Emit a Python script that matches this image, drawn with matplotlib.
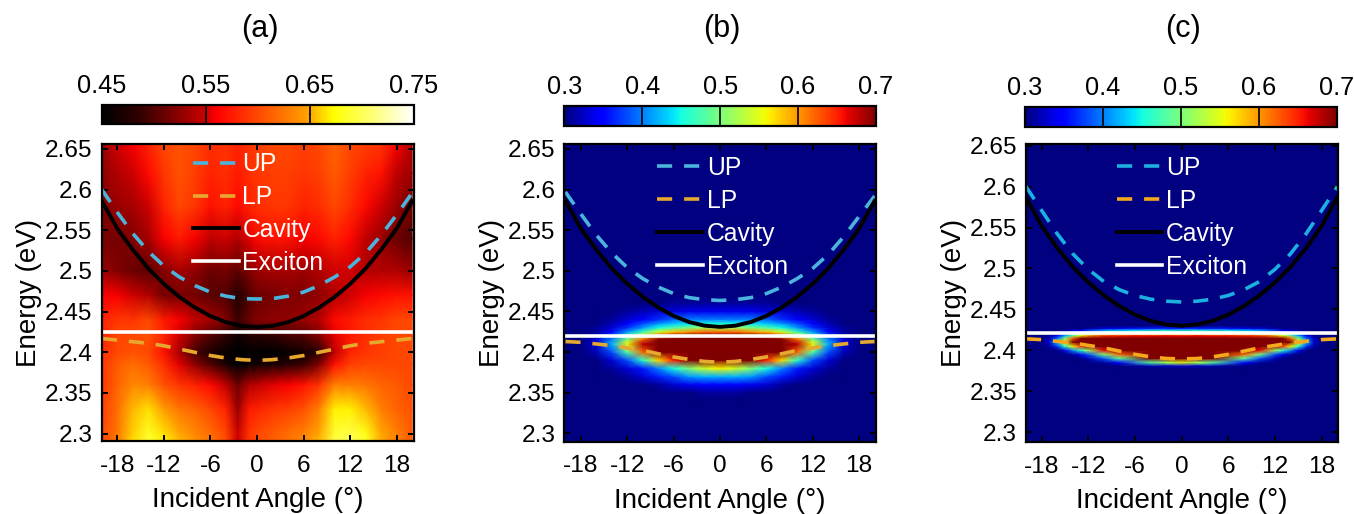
import numpy as np
import matplotlib
matplotlib.use('Agg')
import matplotlib.pyplot as plt
from matplotlib.colors import LinearSegmentedColormap

plt.rcParams['font.family'] = ['Liberation Sans', 'DejaVu Sans']

W, H = 1354, 514

# Angle axis of the dispersion curves
half_angles = [0, 2, 4, 6, 8, 10, 12, 14, 16, 18, 20]

up_a_l = [2.4655, 2.466, 2.469, 2.474, 2.482, 2.4925, 2.506, 2.524, 2.546, 2.572, 2.600]
up_a_r = [2.4655, 2.466, 2.469, 2.474, 2.482, 2.4925, 2.505, 2.522, 2.544, 2.569, 2.596]
lp_a = [2.390, 2.391, 2.393, 2.396, 2.400, 2.404, 2.408, 2.411, 2.413, 2.415, 2.417]
cav_a_l = [2.431, 2.4325, 2.437, 2.4445, 2.455, 2.468, 2.484, 2.503, 2.526, 2.552, 2.586]
cav_a_r = [2.431, 2.4325, 2.437, 2.4445, 2.455, 2.468, 2.484, 2.503, 2.526, 2.552, 2.586]

up_b_l = [2.4635, 2.4645, 2.467, 2.472, 2.480, 2.4905, 2.504, 2.522, 2.544, 2.570, 2.597]
up_b_r = [2.4635, 2.4645, 2.467, 2.472, 2.480, 2.4905, 2.503, 2.520, 2.542, 2.567, 2.592]
lp_b = [2.3875, 2.3885, 2.391, 2.394, 2.398, 2.402, 2.405, 2.408, 2.410, 2.412, 2.413]

up_c = [2.459, 2.460, 2.4625, 2.467, 2.474, 2.484, 2.499, 2.518, 2.5425, 2.571, 2.600]
lp_c = [2.3894, 2.390, 2.392, 2.395, 2.399, 2.403, 2.406, 2.409, 2.411, 2.413, 2.414]
cav_c = [2.430, 2.4315, 2.436, 2.4435, 2.454, 2.467, 2.483, 2.502, 2.525, 2.552, 2.587]

exciton_a = 2.4254
exciton_b = 2.420
exciton_c = 2.421

a_angles = [-20, -18, -16, -14, -12, -10, -8, -6, -4, -2.5, -1, 0, 2, 4, 6, 8, 10, 12, 14, 16, 18, 20]
a_energies = [2.29, 2.30, 2.33, 2.36, 2.385, 2.40, 2.42, 2.44, 2.47, 2.50, 2.54, 2.58, 2.62, 2.656]
a_map = [
    [.60, .625, .665, .69, .67, .655, .64, .625, .60, .55, .59, .60, .61, .62, .635, .655, .695, .70, .685, .65, .63, .61],
    [.60, .625, .66, .685, .665, .65, .635, .62, .60, .55, .59, .60, .61, .62, .63, .65, .69, .695, .68, .65, .63, .61],
    [.595, .62, .655, .665, .645, .625, .615, .60, .58, .53, .575, .58, .59, .595, .605, .63, .67, .67, .655, .63, .615, .605],
    [.59, .615, .635, .63, .605, .59, .58, .565, .545, .51, .54, .545, .555, .56, .57, .59, .63, .63, .625, .615, .61, .60],
    [.59, .61, .62, .61, .585, .555, .525, .50, .47, .45, .46, .465, .47, .48, .49, .52, .57, .595, .60, .60, .60, .60],
    [.585, .60, .605, .60, .57, .535, .495, .47, .455, .45, .45, .45, .45, .455, .465, .48, .545, .58, .59, .595, .60, .60],
    [.58, .60, .60, .605, .58, .55, .52, .50, .485, .46, .475, .48, .485, .495, .50, .52, .555, .575, .585, .595, .60, .60],
    [.58, .59, .59, .60, .575, .56, .545, .535, .52, .49, .51, .52, .525, .525, .53, .54, .565, .575, .585, .59, .60, .60],
    [.56, .56, .55, .54, .515, .515, .515, .505, .50, .475, .50, .51, .515, .52, .52, .525, .54, .55, .56, .565, .57, .57],
    [.53, .52, .51, .505, .52, .535, .525, .51, .515, .505, .52, .53, .535, .535, .53, .54, .55, .55, .54, .54, .54, .53],
    [.515, .515, .52, .535, .56, .575, .56, .545, .55, .54, .555, .565, .57, .57, .56, .565, .58, .565, .545, .53, .51, .50],
    [.52, .53, .535, .55, .58, .60, .59, .57, .58, .565, .58, .585, .59, .59, .58, .585, .60, .585, .565, .55, .53, .515],
    [.525, .54, .55, .565, .59, .605, .595, .58, .585, .575, .585, .59, .595, .595, .59, .595, .61, .595, .58, .57, .545, .53],
    [.53, .55, .56, .58, .60, .605, .60, .585, .59, .58, .59, .595, .60, .60, .595, .60, .615, .60, .595, .59, .56, .54],
]

b_half_angles = [0, 2, 4, 6, 8, 10, 12, 14, 16, 18, 20]
b_energies = [2.29, 2.34, 2.35, 2.36, 2.37, 2.38, 2.39, 2.40, 2.41, 2.416, 2.42, 2.425, 2.43, 2.435, 2.44, 2.45, 2.46, 2.47, 2.656]
b_half_map = [
    [.30, .30, .30, .30, .30, .30, .30, .30, .30, .30, .30],
    [.30, .30, .30, .30, .30, .30, .30, .30, .30, .30, .30],
    [.31, .31, .30, .30, .30, .30, .30, .30, .30, .30, .30],
    [.35, .35, .34, .33, .31, .30, .30, .30, .30, .30, .30],
    [.42, .42, .41, .38, .36, .33, .31, .30, .30, .30, .30],
    [.56, .54, .50, .45, .40, .36, .33, .31, .30, .30, .30],
    [.74, .73, .70, .65, .57, .46, .38, .33, .30, .30, .30],
    [.80, .80, .80, .78, .72, .62, .48, .38, .32, .30, .30],
    [.80, .80, .80, .80, .78, .68, .56, .42, .33, .30, .30],
    [.78, .78, .78, .76, .72, .62, .50, .40, .33, .30, .30],
    [.72, .72, .71, .68, .62, .54, .46, .38, .32, .30, .30],
    [.62, .62, .60, .58, .54, .47, .41, .35, .31, .30, .30],
    [.52, .52, .50, .48, .45, .41, .37, .33, .31, .30, .30],
    [.45, .45, .44, .43, .41, .38, .35, .32, .30, .30, .30],
    [.40, .40, .40, .39, .37, .35, .33, .31, .30, .30, .30],
    [.34, .34, .34, .33, .33, .32, .31, .30, .30, .30, .30],
    [.31, .31, .31, .31, .30, .30, .30, .30, .30, .30, .30],
    [.30, .30, .30, .30, .30, .30, .30, .30, .30, .30, .30],
    [.30, .30, .30, .30, .30, .30, .30, .30, .30, .30, .30],
]

# Panel (c) map, same treatment
c_half_angles = [0, 4, 8, 10, 12, 13, 14, 15, 16, 17, 18, 20]
c_energies = [2.288, 2.378, 2.381, 2.385, 2.39, 2.395, 2.40, 2.405, 2.41, 2.415, 2.418, 2.421, 2.424, 2.427, 2.430, 2.652]
c_half_map = [
    [.30, .30, .30, .30, .30, .30, .30, .30, .30, .30, .30, .30],
    [.30, .30, .30, .30, .30, .30, .30, .30, .30, .30, .30, .30],
    [.33, .32, .30, .30, .30, .30, .30, .30, .30, .30, .30, .30],
    [.55, .48, .35, .31, .30, .30, .30, .30, .30, .30, .30, .30],
    [.78, .70, .48, .38, .32, .30, .30, .30, .30, .30, .30, .30],
    [.80, .78, .62, .50, .38, .34, .31, .30, .30, .30, .30, .30],
    [.80, .80, .78, .66, .52, .46, .40, .34, .30, .30, .30, .30],
    [.80, .80, .80, .78, .72, .64, .56, .46, .37, .31, .30, .30],
    [.80, .80, .80, .80, .80, .78, .70, .56, .43, .33, .30, .30],
    [.76, .76, .76, .76, .74, .70, .62, .50, .39, .32, .30, .30],
    [.66, .66, .65, .64, .60, .56, .50, .42, .35, .31, .30, .30],
    [.56, .56, .54, .52, .49, .46, .42, .36, .32, .30, .30, .30],
    [.46, .46, .44, .42, .38, .35, .33, .31, .30, .30, .30, .30],
    [.36, .36, .34, .33, .31, .30, .30, .30, .30, .30, .30, .30],
    [.30, .30, .30, .30, .30, .30, .30, .30, .30, .30, .30, .30],
    [.30, .30, .30, .30, .30, .30, .30, .30, .30, .30, .30, .30],
]

x_ticks = [-18, -12, -6, 0, 6, 12, 18]
y_ticks = [2.3, 2.35, 2.4, 2.45, 2.5, 2.55, 2.6, 2.65]
y_ticklabels = ['2.3', '2.35', '2.4', '2.45', '2.5', '2.55', '2.6', '2.65']
cbar_a_ticks = [0.45, 0.55, 0.65, 0.75]
cbar_a_labels = ['0.45', '0.55', '0.65', '0.75']
cbar_bc_ticks = [0.3, 0.4, 0.5, 0.6, 0.7]
cbar_bc_labels = ['0.3', '0.4', '0.5', '0.6', '0.7']

hot_stops = [(0.0, '#000000'), (0.12, '#300000'), (0.33, '#c80000'), (0.37, '#ff0000'),
             (0.66, '#ffa000'), (0.745, '#ffff00'), (0.88, '#ffff80'), (1.0, '#ffffff')]
hot_cmap = LinearSegmentedColormap.from_list('hotish', hot_stops)


def px_axes(left, top, right, bottom):
    return fig.add_axes([left / W, 1 - bottom / H, (right - left) / W, (bottom - top) / H])


def wings(half, right=None):
    # join left and right wing into one curve from -20 to 20
    right = half if right is None else right
    x = np.array(half_angles)
    return np.concatenate([-x[::-1], x[1:]]), np.concatenate([np.array(half)[::-1], np.array(right)[1:]])


def mirror(half_x, half_z):
    half_x = np.array(half_x)
    half_z = np.array(half_z)
    return np.concatenate([-half_x[::-1], half_x[1:]]), np.hstack([half_z[:, ::-1], half_z[:, 1:]])


def draw_panel(box, cbox, title, title_x, x, e, z, cmap, vmin, vmax, ticks, labels,
               xlim, ylim, up, lp, cav, exciton, col_up, col_lp, leg_xy):
    ax = px_axes(*box)
    mesh = ax.pcolormesh(x, e, np.array(z), shading='gouraud', cmap=cmap, vmin=vmin, vmax=vmax, rasterized=True)
    dash = (4.2, 3.3)
    ax.plot(*up, color=col_up, lw=2.6, dashes=dash, label='UP')
    ax.plot(*lp, color=col_lp, lw=2.6, dashes=dash, label='LP')
    ax.plot(*cav, color='black', lw=2.8, label='Cavity')
    ax.plot([-19.95, 19.95], [exciton, exciton], color='white', lw=2.6, label='Exciton')
    ax.set_xlim(*xlim)
    ax.set_ylim(*ylim)
    ax.set_xticks(x_ticks)
    ax.set_xticklabels([str(t) for t in x_ticks])
    ax.set_yticks(y_ticks)
    ax.set_yticklabels(y_ticklabels)
    ax.tick_params(direction='in', top=True, right=True, length=4, width=1.4, labelsize=17.6)
    ax.tick_params(axis='x', pad=10)
    ax.tick_params(axis='y', pad=6.5)
    ax.set_xlabel('Incident Angle (°)', fontsize=20)
    ax.set_ylabel('Energy (eV)', fontsize=20)
    ax.xaxis.set_label_coords(0.5, -0.156)
    ax.yaxis.set_label_coords(-0.19, 0.5)
    for s in ax.spines.values():
        s.set_linewidth(1.6)
    leg = ax.legend(loc='upper left', bbox_to_anchor=leg_xy, frameon=False, fontsize=17.8,
                    labelcolor='white', handlelength=1.85, handletextpad=0.15, labelspacing=0.36,
                    borderpad=0, borderaxespad=0)
    leg.set_zorder(5)

    cax = px_axes(*cbox)
    cb = fig.colorbar(mesh, cax=cax, orientation='horizontal')
    cb.set_ticks(ticks)
    cb.set_ticklabels(labels)
    cax.xaxis.set_ticks_position('both')
    cax.xaxis.set_label_position('top')
    cax.tick_params(direction='in', top=True, bottom=True, labeltop=True, labelbottom=False,
                    length=7, width=1.2, labelsize=18.3, pad=5)
    cb.outline.set_linewidth(1.6)
    fig.text(title_x / W, 1 - 29 / H, title, fontsize=22, ha='center', va='center')
    return ax


fig = plt.figure(figsize=(W / 100, H / 100), dpi=100)

draw_panel((101.5, 144, 413.5, 441), (101.5, 105, 413.5, 124), '(a)', 260,
           a_angles, a_energies, a_map, hot_cmap, 0.45, 0.75, cbar_a_ticks, cbar_a_labels,
           (-20.04, 20.17), (2.291, 2.656),
           wings(up_a_l, up_a_r), wings(lp_a), wings(cav_a_l, cav_a_r), exciton_a, '#4ab4dc', '#e6a92e',
           (0.293, 0.972))

xb, zb = mirror(b_half_angles, b_half_map)
draw_panel((564.3, 144, 876, 441.5), (564.3, 106, 876, 125.5), '(b)', 722,
           xb, b_energies, zb, 'jet', 0.3, 0.7, cbar_bc_ticks, cbar_bc_labels,
           (-20.14, 20.18), (2.290, 2.656),
           wings(up_b_l, up_b_r), wings(lp_b), wings(cav_a_l, cav_a_r), exciton_b, '#4ab4dc', '#e6a92e',
           (0.298, 0.96))

xc, zc = mirror(c_half_angles, c_half_map)
draw_panel((1026, 144, 1337.7, 442), (1025, 107, 1337, 126.5), '(c)', 1183,
           xc, c_energies, zc, 'jet', 0.3, 0.7, cbar_bc_ticks, cbar_bc_labels,
           (-20.0, 20.05), (2.288, 2.652),
           wings(up_c), wings(lp_c), wings(cav_c), exciton_c, '#1cb0e0', '#f5a81c',
           (0.291, 0.96))

fig.savefig('out.png', dpi=100)
